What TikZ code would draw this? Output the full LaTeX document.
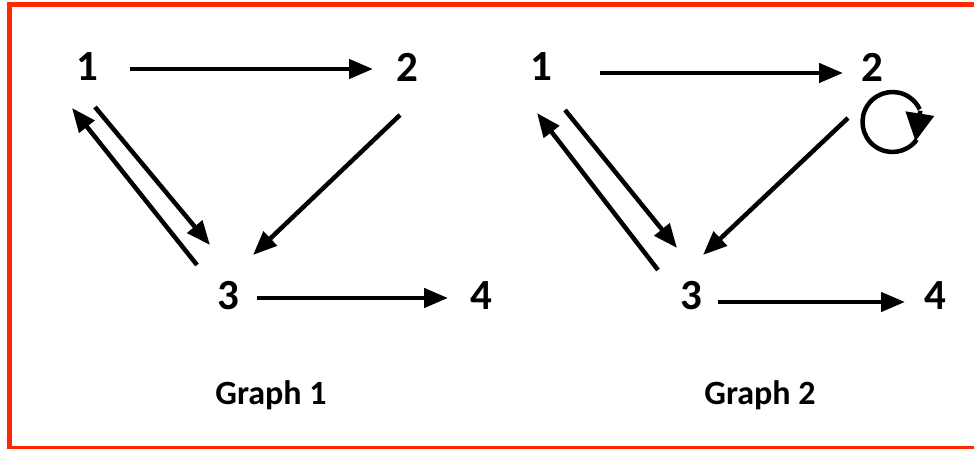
\documentclass[tikz,border=0pt]{standalone}
\usepackage{fontspec}
\setmainfont{Carlito}
\usepackage{xcolor}
\usetikzlibrary{arrows.meta, calc}
\definecolor{framered}{RGB}{255,40,0}

\begin{document}
\begin{tikzpicture}[
    x=1pt, y=1pt,
    vertex/.style={inner sep=0pt, font=\fontsize{43}{46}\selectfont\bfseries},
    caption/.style={inner sep=0pt, anchor=base, font=\fontsize{34}{38}\selectfont\bfseries},
    arrow/.style={-{Triangle[length=24pt, width=19pt]}, line width=4.5pt},
]
\useasboundingbox (0,0) rectangle (974,449);
\fill[white] (0,0) rectangle (974,449);
% red frame
\draw[framered, line width=5pt] (9.5,0.5) rectangle (990,444.5);

% Graph 1
\node[vertex] (a1) at (87,382) {1};
\node[vertex] (a2) at (407,382) {2};
\node[vertex] (a3) at (228,153) {3};
\node[vertex] (a4) at (481,153) {4};
\node[caption] (cap1) at (271,44) {Graph 1};

\draw[arrow] ($(a1)+(43,-2)$) -- ($(a2)+(-34,-2)$);
\draw[arrow] ($(a3)+(29,-2)$) -- ($(a4)+(-33,-2)$);
\draw[arrow] ($(a1)+(8,-40)$) -- ($(a3)+(-18,51)$);
\draw[arrow] ($(a3)+(-31,31)$) -- ($(a1)+(-15,-41)$);
\draw[arrow] ($(a2)+(-7,-48)$) -- ($(a3)+(25,41)$);

% Graph 2
\node[vertex] (b1) at (541,382) {1};
\node[vertex] (b2) at (872,382) {2};
\node[vertex] (b3) at (691,153) {3};
\node[vertex] (b4) at (935,153) {4};
\node[caption] (cap2) at (760,44) {Graph 2};

\draw[arrow] ($(b1)+(59,-6)$) -- ($(b2)+(-29,-6)$);
\draw[arrow] ($(b3)+(27,-6)$) -- ($(b4)+(-30,-6)$);
\draw[arrow] ($(b1)+(24,-43)$) -- ($(b3)+(-14,48)$);
\draw[arrow] ($(b3)+(-33,26)$) -- ($(b1)+(-4,-46)$);
\draw[arrow] ($(b2)+(-24,-51)$) -- ($(b3)+(12,41)$);

% self loop on 2
\coordinate (loop2) at ($(b2)+(20.5,-55)$);
\draw[line width=4.5pt] ([shift={(-36:30)}]loop2) arc[start angle=-36, end angle=-335, radius=30];
\draw[arrow, -{Triangle[length=28pt, width=28pt]}]
    ([shift={(22:30)}]loop2) -- ([shift={(-40:30)}]loop2);

\end{tikzpicture}
\end{document}
